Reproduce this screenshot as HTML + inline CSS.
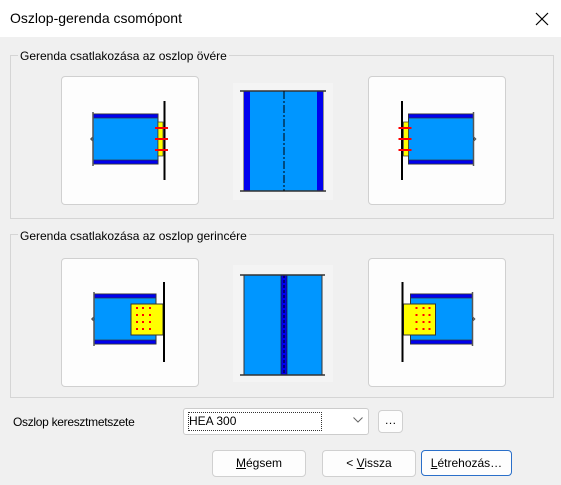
<!DOCTYPE html>
<html><head><meta charset="utf-8"><style>
body{margin:0;width:561px;height:485px;overflow:hidden;background:#f0f0f0;font-family:"Liberation Sans",sans-serif;font-size:12px;color:#000;position:relative}
.a{position:absolute}
.grp{position:absolute;border:1px solid #d5d5d5;}
.gl{position:absolute;background:#f0f0f0;padding:0 2px;font-size:12px}
.tile{position:absolute;background:#fdfdfd;border:1px solid #d0d0d0;border-radius:4px}
.btn{position:absolute;background:#fdfdfd;border:1px solid #d0d0d0;border-radius:4px;text-align:center;line-height:25px;font-size:12px}
</style></head><body>
<div class="a" style="left:0;top:0;width:561px;height:37px;background:#fff"></div>
<div class="a" style="left:10px;top:10px;font-size:14px">Oszlop-gerenda csomópont</div>
<svg class="a" style="left:535px;top:12px" width="14" height="14"><path d="M1 1L13 13M13 1L1 13" stroke="#000" stroke-width="1.2"/></svg>

<div class="grp" style="left:10px;top:55px;width:542px;height:162px"></div>
<div class="gl" style="left:18px;top:49px">Gerenda csatlakozása az oszlop övére</div>
<div class="grp" style="left:10px;top:234px;width:542px;height:162px"></div>
<div class="gl" style="left:18px;top:229px">Gerenda csatlakozása az oszlop gerincére</div>

<div class="tile" style="left:61px;top:76px;width:136px;height:127px"></div>
<div class="tile" style="left:368px;top:76px;width:136px;height:127px"></div>
<div class="tile" style="left:61px;top:258px;width:136px;height:127px"></div>
<div class="tile" style="left:368px;top:258px;width:136px;height:127px"></div>
<div class="a" style="left:233px;top:83px;width:100px;height:117px;background:#f4f4f4"></div>
<div class="a" style="left:233px;top:265px;width:100px;height:117px;background:#f4f4f4"></div>

<svg class="a" style="left:0;top:0" width="561" height="485">
<defs>
<g id="bf">
<rect x="93" y="114" width="65" height="50" fill="#0096ff" stroke="#333" stroke-width="1"/>
<rect x="93" y="114" width="65" height="4" fill="#0000ee" stroke="#333" stroke-width="0.7"/>
<rect x="93" y="160" width="65" height="4" fill="#0000ee" stroke="#333" stroke-width="0.7"/>
<path d="M93 112 V137 L91 139 L93 141 V166" stroke="#555" stroke-width="1.5" fill="none"/>
<rect x="158" y="122" width="5" height="34" fill="#ffff00" stroke="#333" stroke-width="0.7"/>
<line x1="164.5" y1="101" x2="164.5" y2="180" stroke="#000" stroke-width="2"/>
<g stroke="#ff0000" stroke-width="2"><line x1="155" y1="128" x2="168" y2="128"/><line x1="155" y1="139" x2="168" y2="139"/><line x1="155" y1="150" x2="168" y2="150"/></g>
</g>
<g id="bw">
<rect x="94" y="294" width="62" height="50" fill="#0096ff" stroke="#333" stroke-width="1"/>
<rect x="94" y="294" width="62" height="4" fill="#0000ee" stroke="#333" stroke-width="0.7"/>
<rect x="94" y="340" width="62" height="4" fill="#0000ee" stroke="#333" stroke-width="0.7"/>
<path d="M94 292 V317 L92 319 L94 321 V346" stroke="#555" stroke-width="1.5" fill="none"/>
<rect x="131" y="304" width="32" height="31" fill="#ffff00" stroke="#333" stroke-width="1"/>
<g fill="#ff0000">
<rect x="136" y="307" width="2" height="2"/><rect x="142" y="307" width="2" height="2"/><rect x="149" y="307" width="2" height="2"/>
<rect x="136" y="314" width="2" height="2"/><rect x="142" y="314" width="2" height="2"/><rect x="149" y="314" width="2" height="2"/>
<rect x="136" y="321" width="2" height="2"/><rect x="142" y="321" width="2" height="2"/><rect x="149" y="321" width="2" height="2"/>
<rect x="136" y="328" width="2" height="2"/><rect x="142" y="328" width="2" height="2"/><rect x="149" y="328" width="2" height="2"/>
</g>
<line x1="164" y1="282" x2="164" y2="362" stroke="#000" stroke-width="2"/>
</g>
</defs>
<use href="#bf"/>
<use href="#bf" transform="translate(566.5 0) scale(-1 1)"/>
<use href="#bw"/>
<use href="#bw" transform="translate(566.5 0) scale(-1 1)"/>
<rect x="244" y="91" width="79" height="100" fill="#0096ff" stroke="#333"/>
<rect x="244" y="91" width="6" height="100" fill="#0000ee"/>
<rect x="317" y="91" width="6" height="100" fill="#0000ee"/>
<line x1="240" y1="91" x2="326" y2="91" stroke="#333" stroke-width="1.5"/>
<line x1="240" y1="191" x2="326" y2="191" stroke="#333" stroke-width="1.5"/>
<line x1="284" y1="91" x2="284" y2="191" stroke="#000" stroke-width="1" stroke-dasharray="8,2,2,2"/>
<rect x="244" y="275" width="78" height="100" fill="#0096ff" stroke="#333"/>
<rect x="281" y="275" width="6" height="100" fill="#0000ee" stroke="#222" stroke-width="0.7"/>
<line x1="284" y1="275" x2="284" y2="375" stroke="#000" stroke-dasharray="3,2"/>
<line x1="240" y1="275" x2="325" y2="275" stroke="#333" stroke-width="1.5"/>
<line x1="240" y1="375" x2="325" y2="375" stroke="#333" stroke-width="1.5"/>
</svg>

<div class="a" style="left:13px;top:415px;letter-spacing:-0.3px">Oszlop keresztmetszete</div>
<div class="a" style="left:183px;top:408px;width:184px;height:25px;background:#fff;border:1px solid #ccc;border-radius:3px"></div>
<div class="a" style="left:188px;top:412px;width:132px;height:17px;border:1px dotted #333;line-height:17px">HEA 300</div>
<svg class="a" style="left:353px;top:417px" width="10" height="6"><path d="M0.5 0.5L5 5L9.5 0.5" stroke="#666" fill="none"/></svg>
<div class="btn" style="left:378px;top:410px;width:23px;height:21px;line-height:18px">…</div>
<div class="btn" style="left:212px;top:450px;width:92px;height:25px"><u>M</u>égsem</div>
<div class="btn" style="left:322px;top:450px;width:92px;height:25px">&lt; <u>V</u>issza</div>
<div class="btn" style="left:421px;top:450px;width:89px;height:24px;border:1px solid #2a6fc9"><u>L</u>étrehozás…</div>
</body></html>
